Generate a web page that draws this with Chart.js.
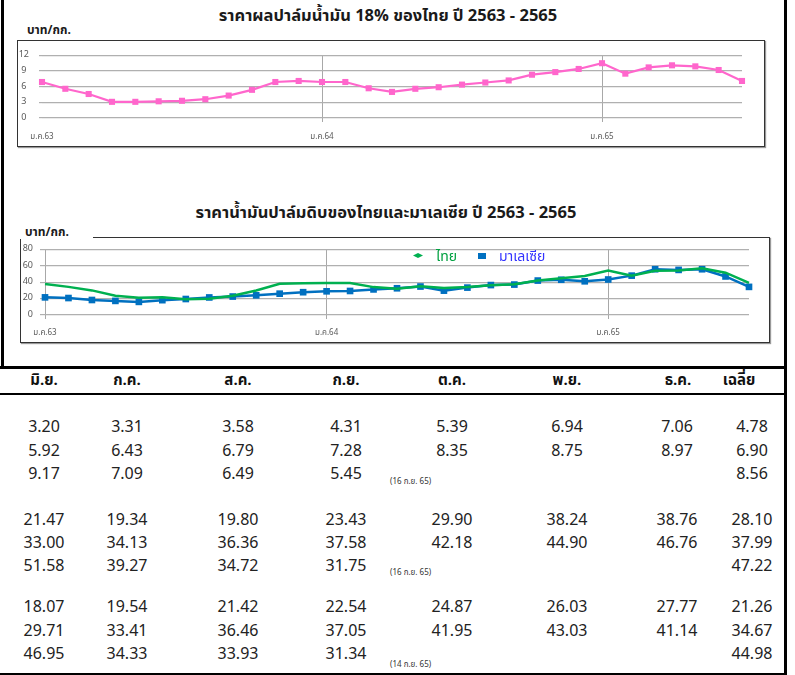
<!DOCTYPE html>
<html>
<head>
<meta charset="utf-8">
<script src="https://cdn.jsdelivr.net/npm/chart.js@4.4.1/dist/chart.umd.min.js"></script>
<style>
  html, body { margin: 0; padding: 0; background: #fff; }
  body { width: 795px; height: 675px; position: relative; overflow: hidden;
         font-family: Tahoma, "Noto Sans Thai", "Noto Sans Thai UI", Loma, Garuda, "DejaVu Sans", sans-serif; color: #1a1a1a; }
  .abs { position: absolute; }
  .bar { position: absolute; background: #000; }
  .title { position: absolute; font-weight: bold; font-size: 16.5px; white-space: nowrap; transform: translate(-50%, -50%); }
  .unit { position: absolute; font-weight: bold; font-size: 12px; white-space: nowrap; transform: translateY(-50%); background: #fff; padding-right: 2px; }
  .box { position: absolute; border: 1px solid #333; box-shadow: 1px 1px 1px #999; box-sizing: border-box; }
  .cell { position: absolute; white-space: nowrap; transform: translate(-50%, -50%); font-size: 16px; line-height: 1; color: #222; }
  .head { font-weight: bold; font-size: 15px; color: #111; }
  .note { position: absolute; white-space: nowrap; transform: translateY(-50%); font-size: 8px; color: #333; }
  .leg { position: absolute; white-space: nowrap; font-size: 14px; transform: translateY(-50%); }
</style>
</head>
<body>
<script>
// ---------------- DATA ----------------
const monthLabels = [
  'ม.ค.63','ก.พ.63','มี.ค.63','เม.ย.63','พ.ค.63','มิ.ย.63','ก.ค.63','ส.ค.63','ก.ย.63','ต.ค.63','พ.ย.63','ธ.ค.63',
  'ม.ค.64','ก.พ.64','มี.ค.64','เม.ย.64','พ.ค.64','มิ.ย.64','ก.ค.64','ส.ค.64','ก.ย.64','ต.ค.64','พ.ย.64','ธ.ค.64',
  'ม.ค.65','ก.พ.65','มี.ค.65','เม.ย.65','พ.ค.65','มิ.ย.65','ก.ค.65'
];
// ราคาผลปาล์มน้ำมัน 18% (บาท/กก.)
const ffbPrice = [
  6.9, 5.6, 4.6, 3.1, 3.1, 3.2, 3.3, 3.6, 4.3, 5.4, 6.9, 7.1,
  6.9, 6.9, 5.7, 5.0, 5.6, 5.9, 6.4, 6.8, 7.2, 8.3, 8.8, 9.4,
  10.5, 8.5, 9.7, 10.1, 9.9, 9.2, 7.1
];
// ราคาน้ำมันปาล์มดิบ ไทย (บาท/กก.)
const cpoThai = [
  37.9, 34.3, 30.0, 23.4, 21.0, 21.5, 19.3, 19.8, 23.4, 29.9, 38.2, 38.8,
  39.0, 39.0, 34.0, 32.0, 35.0, 33.0, 34.1, 36.4, 37.6, 42.2, 44.9, 47.5,
  54.2, 48.0, 53.9, 54.2, 57.0, 51.6, 39.3
];
// ราคาน้ำมันปาล์มดิบ มาเลเซีย (บาท/กก.)
const cpoMalaysia = [
  21.5, 20.7, 18.3, 17.2, 16.0, 18.1, 19.5, 21.4, 22.5, 24.0, 26.0, 27.8,
  28.9, 29.3, 31.2, 32.6, 34.7, 29.7, 33.4, 36.5, 37.1, 42.0, 43.0, 41.1,
  43.3, 48.0, 55.8, 55.0, 55.8, 47.0, 34.3
];
const ffbTicks = [0, 3, 6, 9, 12];
const cpoTicks = [0, 20, 40, 60, 80];

// table
const tableHeaders = ['มิ.ย.','ก.ค.','ส.ค.','ก.ย.','ต.ค.','พ.ย.','ธ.ค.','เฉลี่ย'];
const ffbRows = [
  ['3.20','3.31','3.58','4.31','5.39','6.94','7.06','4.78'],
  ['5.92','6.43','6.79','7.28','8.35','8.75','8.97','6.90'],
  ['9.17','7.09','6.49','5.45','','','','8.56']
];
const thaiRows = [
  ['21.47','19.34','19.80','23.43','29.90','38.24','38.76','28.10'],
  ['33.00','34.13','36.36','37.58','42.18','44.90','46.76','37.99'],
  ['51.58','39.27','34.72','31.75','','','','47.22']
];
const malRows = [
  ['18.07','19.54','21.42','22.54','24.87','26.03','27.77','21.26'],
  ['29.71','33.41','36.46','37.05','41.95','43.03','41.14','34.67'],
  ['46.95','34.33','33.93','31.34','','','','44.98']
];
const tableNotes = ['(16 ก.ย. 65)', '(16 ก.ย. 65)', '(14 ก.ย. 65)'];

const title1 = 'ราคาผลปาล์มน้ำมัน 18% ของไทย ปี 2563 - 2565';
const title2 = 'ราคาน้ำมันปาล์มดิบของไทยและมาเลเซีย ปี 2563 - 2565';
const unitLabel = 'บาท/กก.';
const seriesNames = ['ไทย', 'มาเลเซีย'];

// ---------------- STYLE / LAYOUT ----------------
const FONT = 'Tahoma, "Noto Sans Thai", "Noto Sans Thai UI", Loma, Garuda, "DejaVu Sans", sans-serif';
const PINK = '#ff66cc', GREEN = '#00b050', BLUE = '#0070c0';
const GRID = '#b0b0b0';

function el(cls, style, text) {
  const d = document.createElement('div');
  d.className = cls;
  Object.assign(d.style, style);
  if (text !== undefined) d.textContent = text;
  document.body.appendChild(d);
  return d;
}

// frame lines
el('bar', {left: '1px', top: '0px', width: '3px', height: '367px'});
el('bar', {left: '784px', top: '0px', width: '3px', height: '675px'});
el('bar', {left: '0px', top: '366px', width: '787px', height: '3px'});
el('bar', {left: '0px', top: '393px', width: '786px', height: '2px'});
el('bar', {left: '0px', top: '673px', width: '786px', height: '2px'});

// chart 1 decorations
el('title', {left: '388px', top: '15px'}, title1);
el('unit', {left: '27px', top: '30px'}, unitLabel);
el('box', {left: '17px', top: '40px', width: '748px', height: '107px'});

// chart 2 decorations
el('title', {left: '386px', top: '212px'}, title2);
el('box', {left: '20px', top: '237px', width: '750px', height: '106px'});
// cover the top-left of box 2 behind the unit label
el('abs', {left: '18px', top: '226px', width: '75px', height: '13px', background: '#fff'});
el('unit', {left: '25px', top: '232px'}, unitLabel);

function makeCanvas(left, top, w, h) {
  const wrap = el('abs', {left: left + 'px', top: top + 'px', width: w + 'px', height: h + 'px'});
  const c = document.createElement('canvas');
  wrap.appendChild(c);
  return c;
}

Chart.defaults.font.family = FONT;
Chart.defaults.devicePixelRatio = 1;

function isJan(i) { return monthLabels[i] && monthLabels[i].startsWith('ม.ค.'); }

function buildOptions(cfg) {
  return {
    responsive: true,
    maintainAspectRatio: false,
    animation: false,
    layout: { padding: { left: 0, top: cfg.padTop, right: cfg.padRight, bottom: 0 } },
    plugins: { legend: { display: false }, tooltip: { enabled: false } },
    scales: {
      x: {
        type: 'category',
        offset: false,
        border: { display: false },
        grid: {
          drawOnChartArea: true,
          tickLength: 4,
          lineWidth: 1,
          color: (ctx) => (isJan(ctx.index) && (cfg.showFirstV || ctx.index > 0)) ? '#a8a8a8' : 'rgba(0,0,0,0)'
        },
        ticks: {
          autoSkip: false,
          maxRotation: 0,
          padding: cfg.xPad,
          color: '#595959',
          font: { size: 8 },
          callback: function (v, i) { return isJan(i) ? monthLabels[i] : ''; }
        },
        afterFit: (s) => { s.height = cfg.xH; }
      },
      y: {
        min: cfg.ticks[0],
        max: cfg.ticks[cfg.ticks.length - 1],
        border: { display: false },
        afterBuildTicks: (s) => { s.ticks = cfg.ticks.map(v => ({ value: v })); },
        grid: { color: GRID, lineWidth: 1.2, tickLength: cfg.yTick },
        ticks: {
          color: '#595959',
          font: { size: 9 },
          padding: cfg.yPad,
          crossAlign: cfg.crossAlign
        },
        afterFit: (s) => { s.width = cfg.yW; }
      }
    }
  };
}

// chart 1 : FFB price
new Chart(makeCanvas(17, 40, 748, 107), {
  type: 'line',
  data: {
    labels: monthLabels,
    datasets: [{
      label: title1,
      data: ffbPrice,
      borderColor: PINK,
      backgroundColor: PINK,
      borderWidth: 2.2,
      pointStyle: 'rect',
      pointRadius: 4.3,
      pointBorderWidth: 0,
      tension: 0,
      clip: false
    }]
  },
  options: buildOptions({ padTop: 9, padRight: 23, xH: 29, yW: 25, yTick: 3, yPad: 10, crossAlign: 'center', xPad: 11, ticks: ffbTicks, showFirstV: false })
});

// chart 2 : CPO price
new Chart(makeCanvas(20, 237, 750, 106), {
  type: 'line',
  data: {
    labels: monthLabels,
    datasets: [
      {
        label: seriesNames[0],
        data: cpoThai,
        borderColor: GREEN,
        backgroundColor: GREEN,
        borderWidth: 2.5,
        pointRadius: 0,
        tension: 0,
        clip: false
      },
      {
        label: seriesNames[1],
        data: cpoMalaysia,
        borderColor: BLUE,
        backgroundColor: BLUE,
        borderWidth: 2.5,
        pointStyle: 'rect',
        pointRadius: 4.7,
        pointBorderWidth: 0,
        tension: 0,
        clip: false
      }
    ]
  },
  options: buildOptions({ padTop: 10, padRight: 21, xH: 28, yW: 25, yTick: 5, yPad: 7, crossAlign: 'near', xPad: 10, ticks: cpoTicks, showFirstV: true })
});

// legend of chart 2
el('abs', {left: '413px', top: '253px', width: '10px', height: '5px',
  background: GREEN, clipPath: 'polygon(50% 0, 100% 50%, 50% 100%, 0 50%)'});
el('leg', {left: '436px', top: '256px', color: '#00a040'}, seriesNames[0]);
el('abs', {left: '478px', top: '253px', width: '8px', height: '6px', background: BLUE});
el('leg', {left: '499px', top: '256px', color: '#3333ff'}, seriesNames[1]);

// ---------------- TABLE ----------------
const colCenters = [44, 127, 238, 346, 452, 567, 677, 752];
const headCenters = [44, 127, 238, 346, 452, 567, 678, 739];
tableHeaders.forEach((h, i) => el('cell head', {left: headCenters[i] + 'px', top: '380px'}, h));

const groups = [
  { rows: ffbRows, ys: [427, 451, 474], noteY: 482 },
  { rows: thaiRows, ys: [520, 543, 566], noteY: 573 },
  { rows: malRows, ys: [607, 631, 654], noteY: 665 }
];
groups.forEach((g, gi) => {
  g.rows.forEach((row, ri) => {
    row.forEach((v, ci) => {
      if (v !== '') el('cell', {left: colCenters[ci] + 'px', top: g.ys[ri] + 'px'}, v);
    });
  });
  el('note', {left: '390px', top: g.noteY + 'px'}, tableNotes[gi]);
});
</script>
</body>
</html>
